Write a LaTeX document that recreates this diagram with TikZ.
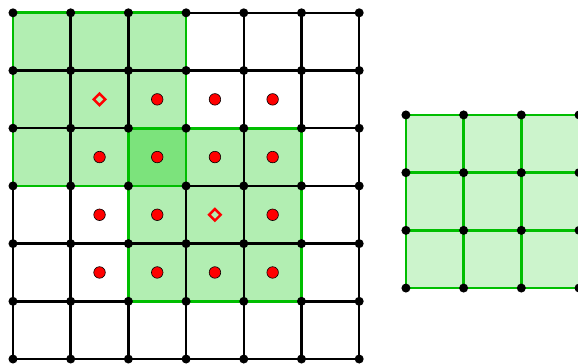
\documentclass[tikz,border=0pt]{standalone}
\usetikzlibrary{calc}
\definecolor{wingreen}{RGB}{0,190,0}
\definecolor{winfill}{RGB}{0,200,0}

\begin{document}
\begin{tikzpicture}[x=1cm,y=1cm,
    gridline/.style={line width=1.2pt,black},
    winline/.style={line width=1.3pt,wingreen},
    vertex/.style={fill=black},
    sample/.style={fill=red,draw=black,line width=0.3pt},
    probe/.style={draw=red,line width=1.2pt}]
\useasboundingbox (-0.225,-0.069) rectangle (9.792,6.222);

\fill[winfill,opacity=0.3] (0,3) rectangle (3,6);
\fill[winfill,opacity=0.3] (2,1) rectangle (5,4);

\draw[gridline] (0,0) grid (6,6);

\draw[winline] (0,3) rectangle (3,6);
\draw[winline] (2,1) rectangle (5,4);

\foreach \i in {0,...,6}
  \foreach \j in {0,...,6}
    \fill[vertex] (\i,\j) circle (0.078);

\foreach \p in {(2.5,4.5),(3.5,4.5),(4.5,4.5),
                (1.5,3.5),(2.5,3.5),(3.5,3.5),(4.5,3.5),
                (1.5,2.5),(2.5,2.5),(4.5,2.5),
                (1.5,1.5),(2.5,1.5),(3.5,1.5),(4.5,1.5)}
  \filldraw[sample] \p circle (0.1);

\foreach \p in {(1.5,4.5),(3.5,2.5)}
  \draw[probe] \p +(0,0.1) -- +(0.1,0) -- +(0,-0.1) -- +(-0.1,0) -- cycle;

\begin{scope}[shift={(6.81,1.23)}]
\fill[winfill,opacity=0.2] (0,0) rectangle (3,3);
\draw[winline] (0,0) grid (3,3);
\foreach \i in {0,...,3}
  \foreach \j in {0,...,3}
    \fill[vertex] (\i,\j) circle (0.078);
\end{scope}
\end{tikzpicture}
\end{document}
